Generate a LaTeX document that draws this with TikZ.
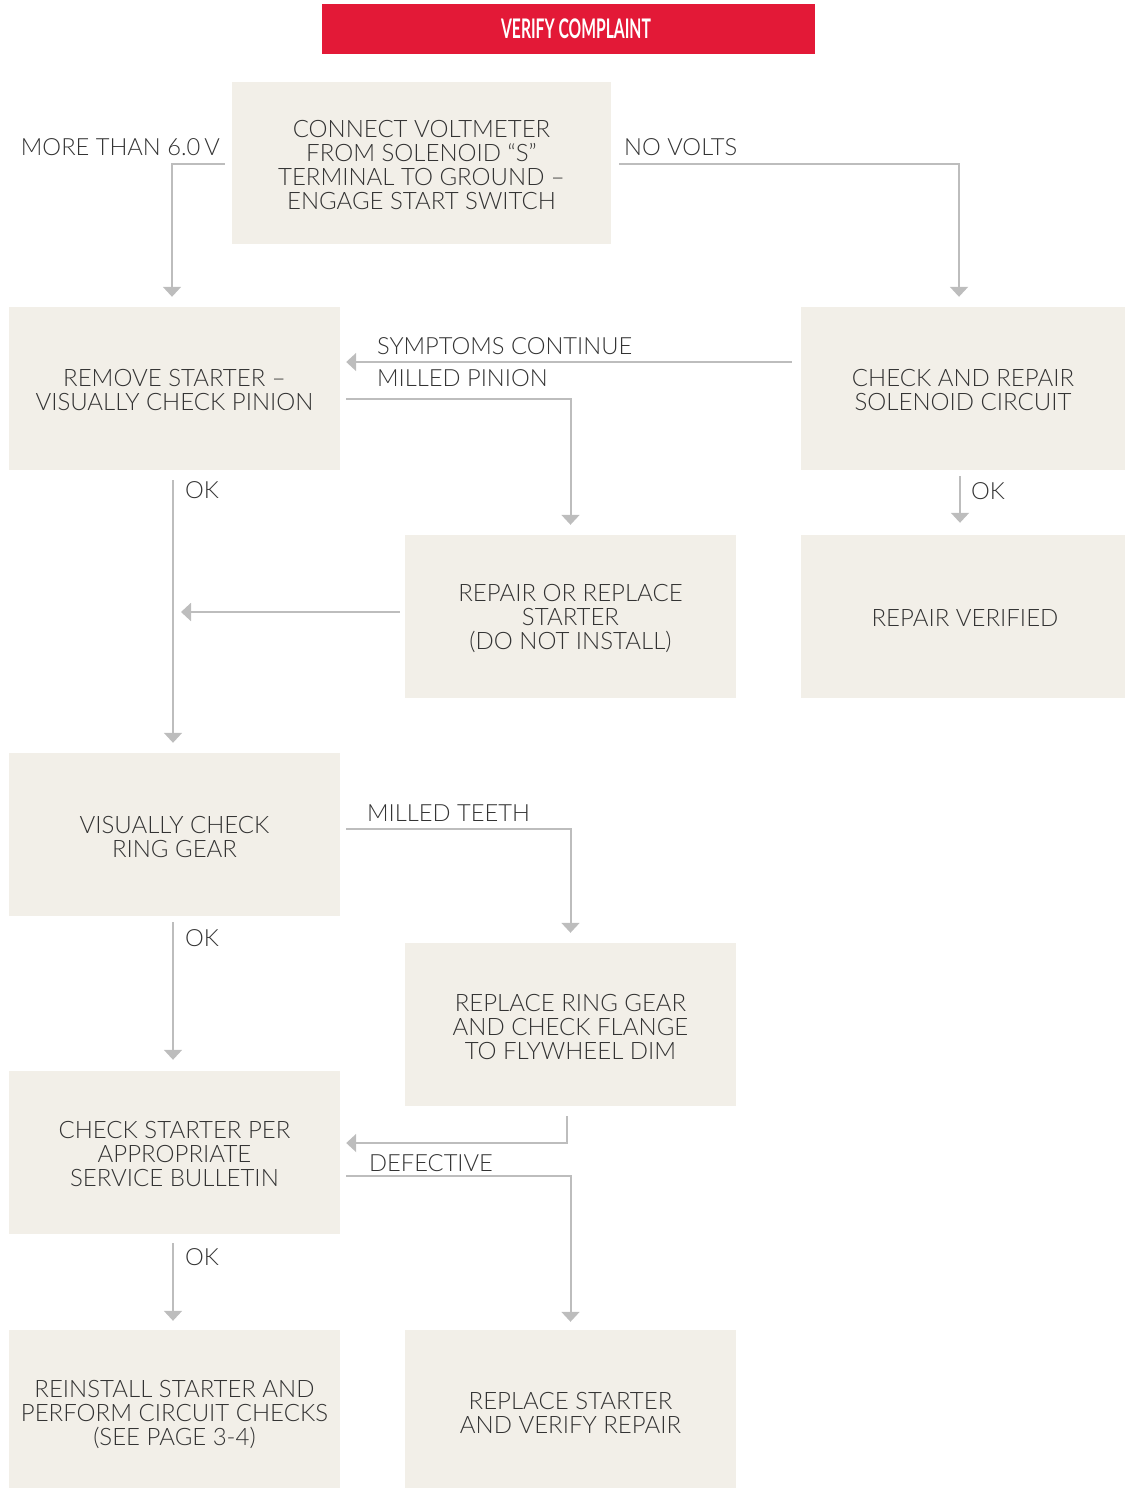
\documentclass[tikz,border=0pt]{standalone}
\usepackage{fontspec}
\setmainfont{Lato}[UprightFont={* Light}, BoldFont={* Bold}]
\newfontfamily\titlefont[FakeStretch=0.58]{Lato}
\usetikzlibrary{arrows.meta,calc}
\definecolor{boxfill}{HTML}{F2EFE8}
\definecolor{linegray}{HTML}{BDBDBD}
\definecolor{txt}{HTML}{333333}
\definecolor{titlered}{HTML}{E31937}
\newcommand{\boxtext}[3][-2pt]{\raisebox{#1}[\height][\depth]{\parbox{#2}{\centering #3}}}
\tikzset{
  box/.style={fill=boxfill, draw=none, minimum width=331pt, minimum height=163pt, inner sep=0pt,
    align=center, text=txt, font=\fontsize{24}{24}\selectfont},
  conn/.style={draw=linegray, line width=2pt, -{Triangle[width=18pt,length=10pt]}, shorten >=10pt},
  lbl/.style={text=txt, font=\fontsize{23.7}{24}\selectfont, inner sep=0pt},
}
\begin{document}
\begin{tikzpicture}[x=1pt,y=-1pt]
\useasboundingbox (0,0) rectangle (1125,1488);
\node[fill=titlered, minimum width=493pt, minimum height=50pt, inner sep=0pt] (title) at (568.5,29) {};
\node[text=white, inner sep=0pt, font=\titlefont\bfseries\fontsize{27}{27}\selectfont] (titletext) at (576,29) {VERIFY COMPLAINT};
\node[box, minimum width=379pt, minimum height=162pt] (b1) at (421.5,163) {\boxtext{370pt}{CONNECT VOLTMETER\\FROM SOLENOID “S”\\TERMINAL TO GROUND –\\ENGAGE START SWITCH}};
\node[box] (b2) at (174.5,388.5) {\boxtext{325pt}{REMOVE STARTER –\\VISUALLY CHECK PINION}};
\node[box, minimum width=324pt] (b3) at (963,388.5) {\boxtext{320pt}{CHECK AND REPAIR\\SOLENOID CIRCUIT}};
\node[box] (b4) at (570.5,616.5) {\boxtext{325pt}{REPAIR OR REPLACE\\STARTER\\(DO NOT INSTALL)}};
\node[box, minimum width=324pt] (b5) at (963,616.5) {\boxtext{320pt}{\hspace*{4pt}REPAIR VERIFIED}};
\node[box] (b6) at (174.5,834.5) {\boxtext{325pt}{VISUALLY CHECK\\RING GEAR}};
\node[box] (b7) at (570.5,1024.5) {\boxtext{325pt}{REPLACE RING GEAR\\AND CHECK FLANGE\\TO FLYWHEEL DIM}};
\node[box] (b8) at (174.5,1152.5) {\boxtext{325pt}{CHECK STARTER PER\\APPROPRIATE\\SERVICE BULLETIN}};
\node[box, minimum height=158pt] (b9) at (174.5,1409) {\boxtext[-5pt]{325pt}{REINSTALL STARTER AND\\PERFORM CIRCUIT CHECKS\\(SEE PAGE 3-4)}};
\node[box, minimum height=158pt] (b10) at (570.5,1409) {\boxtext[-4pt]{325pt}{REPLACE STARTER\\AND VERIFY REPAIR}};
% connectors
\draw[conn] ($(b1.west)+(-7,1)$) -| ($(b2.north)+(-2.5,0)$);
\draw[conn] ($(b1.east)+(8,1)$) -| ($(b3.north)+(-4,0)$);
\draw[conn, shorten >=0pt] ($(b3.west)+(-9,-26.5)$) -- ($(b2.east)+(6,-26.5)$);
\draw[conn] ($(b2.east)+(6,10.5)$) -| (b4.north);
\draw[conn] ($(b2.south)+(-1.5,10)$) -- ($(b6.north)+(-1.5,0)$);
\draw[conn, shorten >=0pt] ($(b4.west)+(-5,-4.5)$) -- ($(b2.south |- b4.west)+(6.5,-4.5)$);
\draw[conn, shorten >=12pt] ($(b3.south)+(-3,6)$) -- ($(b5.north)+(-3,0)$);
\draw[conn] ($(b6.east)+(6,-5.5)$) -| (b7.north);
\draw[conn, shorten >=11pt] ($(b6.south)+(-1.5,6)$) -- ($(b8.north)+(-1.5,0)$);
\draw[conn, shorten >=0pt] ($(b7.south)+(-3.5,10)$) |- ($(b8.east)+(6,-9.5)$);
\draw[conn, shorten >=8pt] ($(b8.east)+(6,23.5)$) -| (b10.north);
\draw[conn, shorten >=9pt] ($(b8.south)+(-1.5,9)$) -- ($(b9.north)+(-1.5,0)$);
% labels
\node[lbl, anchor=base east] (l1) at (220,155) {MORE THAN 6.0\,V};
\node[lbl, anchor=base west] (l2) at (624,155) {NO VOLTS};
\node[lbl, anchor=base west] (l3) at (377,354) {SYMPTOMS CONTINUE};
\node[lbl, anchor=base west] (l4) at (377,386) {MILLED PINION};
\node[lbl, anchor=base west] (l5) at (185,498) {OK};
\node[lbl, anchor=base west] (l6) at (971,499) {OK};
\node[lbl, anchor=base west] (l7) at (367,821) {MILLED TEETH};
\node[lbl, anchor=base west] (l8) at (185,946) {OK};
\node[lbl, anchor=base west] (l9) at (369,1171) {DEFECTIVE};
\node[lbl, anchor=base west] (l10) at (185,1265) {OK};
\end{tikzpicture}
\end{document}
